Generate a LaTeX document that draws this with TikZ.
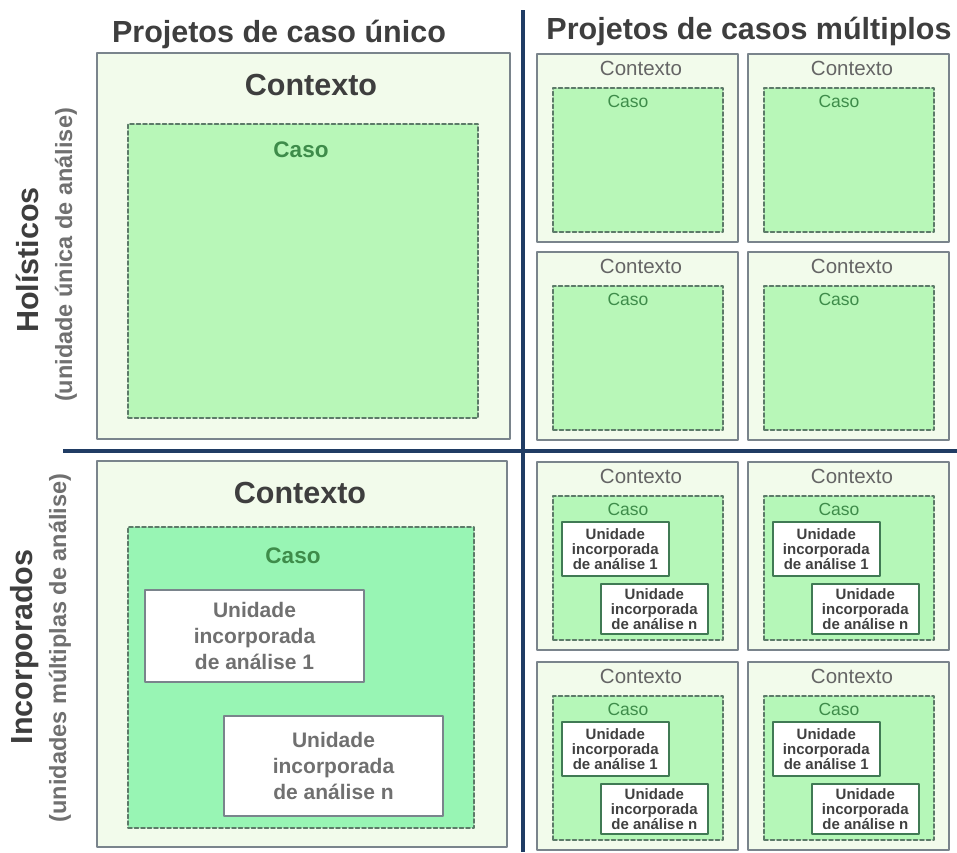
\documentclass[tikz,border=0pt]{standalone}
\usepackage{fontspec}
\setmainfont{Liberation Sans}
\usetikzlibrary{positioning}
\definecolor{ctxfill}{RGB}{242,251,235}
\definecolor{ctxline}{RGB}{122,132,140}
\definecolor{casofill}{RGB}{184,247,184}
\definecolor{casodeep}{RGB}{152,245,180}
\definecolor{dashline}{RGB}{92,122,104}
\definecolor{casotext}{RGB}{62,140,74}
\definecolor{titletext}{RGB}{62,62,62}
\definecolor{sidegrey}{RGB}{112,112,112}
\definecolor{navy}{RGB}{32,60,100}
\definecolor{unitgreen}{RGB}{64,122,84}

\begin{document}
\begin{tikzpicture}[x=1pt,y=-1pt,line cap=round,line join=round,
    ctx/.style={draw=ctxline,fill=ctxfill,line width=2.2pt,inner sep=0pt,outer sep=0pt,anchor=north west},
    caso/.style={draw=dashline,fill=casofill,line width=1.6pt,dash pattern=on 4pt off 2.5pt,inner sep=0pt,outer sep=0pt,anchor=north west},
    unitbig/.style={draw=ctxline,fill=white,line width=2pt,inner sep=0pt,anchor=north west,align=center,text=sidegrey,
      font=\bfseries\fontsize{21}{26}\selectfont},
    unitsmall/.style={draw=unitgreen,fill=white,line width=1.6pt,inner sep=0pt,anchor=north west,align=center,text=black!75,
      font=\bfseries\fontsize{15}{15}\selectfont},
    bigtxt/.style={anchor=base,inner sep=0pt,text=titletext,font=\bfseries\fontsize{30.5}{36}\selectfont},
    sidetxt/.style={anchor=base,inner sep=0pt,rotate=90,text=sidegrey,font=\bfseries\fontsize{23.5}{28}\selectfont},
    bigcaso/.style={anchor=base,inner sep=0pt,text=casotext,font=\bfseries\fontsize{22.5}{26}\selectfont},
    smallctx/.style={anchor=base,inner sep=0pt,text=titletext!80,font=\fontsize{20.5}{24}\selectfont},
    smallcaso/.style={anchor=base,inner sep=0pt,text=casotext,font=\fontsize{17.5}{20}\selectfont},
    sepline/.style={draw=navy,line width=3.5pt,line cap=butt}]
    \fill[white] (0,0) rectangle (957,852);
    \path[use as bounding box] (0,0) rectangle (957,852);

    % titles
    \node[bigtxt] (tunico) at (279,42) {Projetos de caso único};
    \node[bigtxt] (tmulti) at (749,39) {Projetos de casos múltiplos};
    \node[bigtxt,rotate=90] (tholi) at (38,260) {Holísticos};
    \node[sidetxt] (tholisub) at (72,255) {(unidade única de análise)};
    \node[bigtxt,rotate=90] (tinc) at (32,647) {Incorporados};
    \node[sidetxt] (tincsub) at (66,648) {(unidades múltiplas de análise)};

    % single case, holistic
    \node[ctx,minimum width=413pt,minimum height=386pt] (hctx) at (97,53) {};
    \node[caso,minimum width=350pt,minimum height=294pt] (hcase) at (128,124) {};
    \node[bigtxt] (hctxlbl) at (311,95) {Contexto};
    \node[bigcaso] (hcaselbl) at (301,157) {Caso};

    % single case, embedded
    \node[ctx,minimum width=410pt,minimum height=386pt] (ectx) at (97,461) {};
    \node[caso,fill=casodeep,minimum width=346pt,minimum height=301pt] (ecase) at (128,527) {};
    \node[bigtxt] (ectxlbl) at (300,503) {Contexto};
    \node[bigcaso] (ecaselbl) at (293,563) {Caso};
    \node[unitbig,minimum width=219pt,minimum height=92pt] (eunit1) at (144,589) {Unidade\\incorporada\\de análise 1};
    \node[unitbig,minimum width=219pt,minimum height=100pt] (eunitn) at (223,715) {Unidade\\incorporada\\de análise n};

    % multiple cases, holistic
    \foreach \n/\x/\y in {1/537/54,2/748/54,3/537/252,4/748/252}{
      \node[ctx,minimum width=201pt,minimum height=188pt] (mhctx\n) at (\x,\y) {};
      \node[caso,minimum width=170pt,minimum height=144pt] (mhcase\n) at (\x+16,\y+34) {};
      \node[smallctx] (mhctxlbl\n) at (\x+104,\y+21) {Contexto};
      \node[smallcaso] (mhcaselbl\n) at (\x+91,\y+53) {Caso};
    }

    % multiple cases, embedded
    \foreach \n/\x/\y in {1/537/462,2/748/462,3/537/662,4/748/662}{
      \node[ctx,minimum width=201pt,minimum height=188pt] (mectx\n) at (\x,\y) {};
      \node[caso,fill=casofill!90!casodeep,minimum width=170pt,minimum height=144pt] (mecase\n) at (\x+16,\y+34) {};
      \node[smallctx] (mectxlbl\n) at (\x+104,\y+21) {Contexto};
      \node[smallcaso] (mecaselbl\n) at (\x+91,\y+53) {Caso};
      \node[unitsmall,minimum width=107pt,minimum height=54pt] (meunit1\n) at (\x+24,\y+59) {Unidade\\incorporada\\de análise 1};
      \node[unitsmall,minimum width=107pt,minimum height=50pt] (meunitn\n) at (\x+63,\y+121) {Unidade\\incorporada\\de análise n};
    }

    % dividers
    \coordinate (hl) at (63,451);
    \coordinate (hr) at (957,451);
    \coordinate (vt) at (523,10);
    \coordinate (vb) at (523,852);
    \draw[sepline] (hl) -- (hr);
    \draw[sepline] (vt) -- (vb);
\end{tikzpicture}
\end{document}
